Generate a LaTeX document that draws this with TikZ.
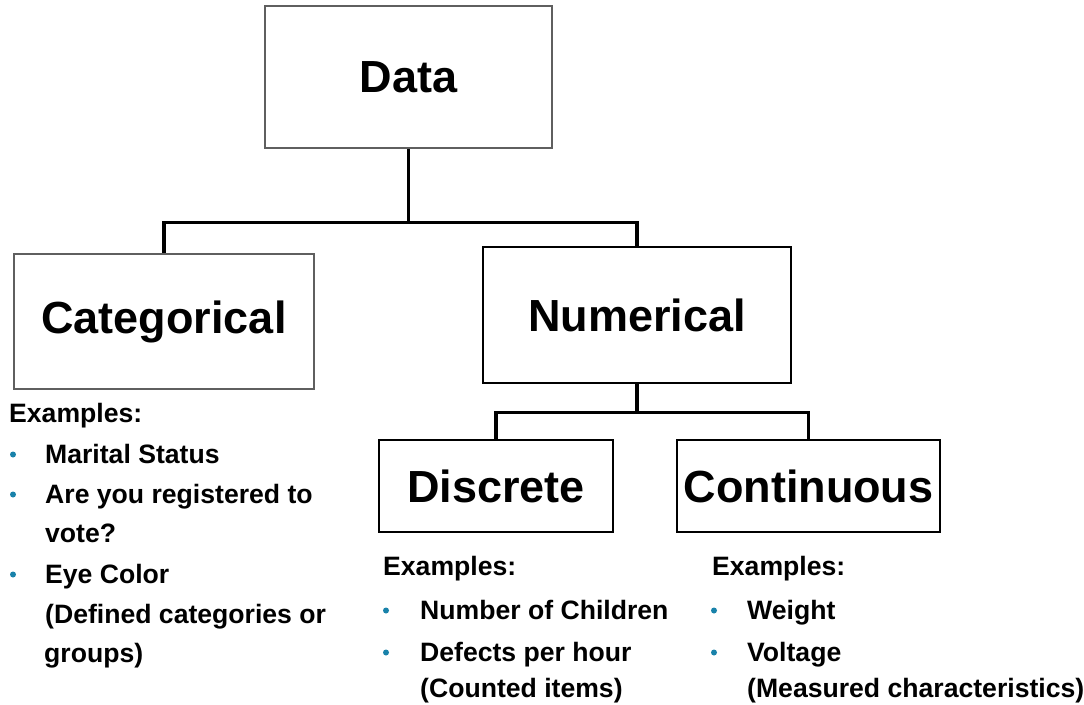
\documentclass[tikz,border=0pt]{standalone}
\usepackage{fontspec}
\setmainfont{Liberation Sans}
\usepackage{xcolor}
\usepackage{tikz}
\usetikzlibrary{positioning}
\definecolor{bulletblue}{RGB}{25,130,170}
\definecolor{boxgray}{RGB}{95,95,95}
\newcommand{\headfont}{\fontsize{45}{50}\selectfont\bfseries}
\newcommand{\listfont}{\fontsize{26.6}{30}\selectfont\bfseries}
\tikzset{
kind/.style = { rectangle, draw = black, fill = white, line width = 1.5pt, inner sep = 0pt, font = \headfont },
branch/.style = { draw = black, line width = 3.2pt },
entry/.style = { anchor = base west, inner sep = 0pt, font = \listfont },
}
\tikzset{
pics/bullet/.style = {
        code = {
        \fill[bulletblue] (0, 0) circle (3pt);
        }
    }
}

\begin{document}
\begin{tikzpicture}[x = 1pt, y = -1pt]
    \useasboundingbox (0, 0) rectangle (1084, 704);
    \node[kind, draw = boxgray, minimum width = 287pt, minimum height = 142pt] (data) at (408.5, 77) {Data};
    \node[kind, draw = boxgray, minimum width = 300pt, minimum height = 135pt] (cat) at (164, 321.5) {Categorical};
    \node[kind, minimum width = 308pt, minimum height = 136pt] (num) at (637, 315) {Numerical};
    \node[kind, minimum width = 234pt, minimum height = 92pt] (disc) at (496, 486) {Discrete};
    \node[kind, minimum width = 263pt, minimum height = 92pt] (cont) at (808.5, 486) {Continuous};
    \draw[branch] (data.south) -- ++(0, 74) coordinate (top fork) -| (cat.north);
    \draw[branch] (top fork) -| (num.north);
    \draw[branch] (num.south) -- ++(0, 29) coordinate (low fork) -| (disc.north);
    \draw[branch] (low fork) -| (cont.north);
    \node[entry] (cat ex) at (9, 422) {Examples:};
    \draw pic at (13, 454.5) {bullet};
    \node[entry] (cat a) at (45, 463) {Marital Status};
    \draw pic at (13, 494.5) {bullet};
    \node[entry] (cat b) at (45, 503) {Are you registered to};
    \node[entry] (cat b2) at (45, 542) {vote?};
    \draw pic at (13, 574.5) {bullet};
    \node[entry] (cat c) at (45, 583) {Eye Color};
    \node[entry] (cat d) at (45, 623) {(Defined categories or};
    \node[entry] (cat d2) at (44, 662) {groups)};
    \node[entry] (disc ex) at (383, 575) {Examples:};
    \draw pic at (386, 610.5) {bullet};
    \node[entry] (disc a) at (420, 619) {Number of Children};
    \draw pic at (386, 652.5) {bullet};
    \node[entry] (disc b) at (420, 661) {Defects per hour};
    \node[entry] (disc c) at (420, 697) {(Counted items)};
    \node[entry] (cont ex) at (712, 575) {Examples:};
    \draw pic at (714, 610.5) {bullet};
    \node[entry] (cont a) at (747, 619) {Weight};
    \draw pic at (714, 652.5) {bullet};
    \node[entry] (cont b) at (747, 661) {Voltage};
    \node[entry] (cont c) at (747, 697) {(Measured characteristics)};
\end{tikzpicture}
\end{document}
